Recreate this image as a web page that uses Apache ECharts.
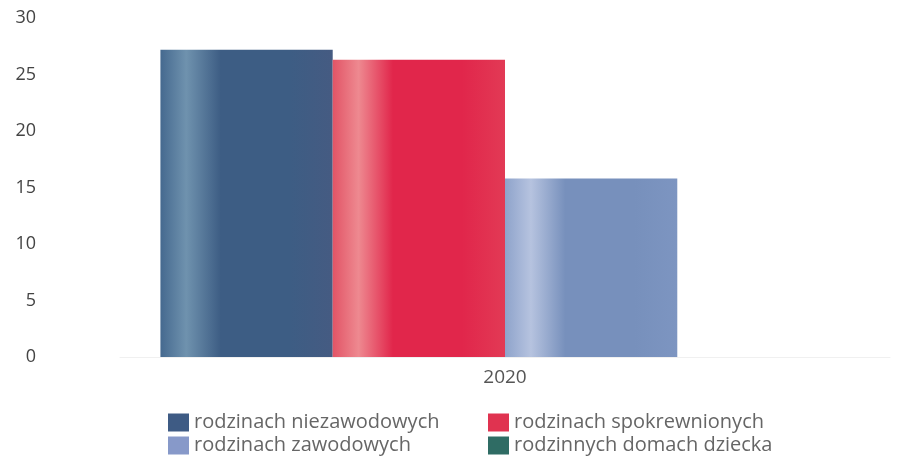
<!DOCTYPE html>
<html>
<head>
<meta charset="utf-8">
<script src="https://cdn.jsdelivr.net/npm/echarts@6/dist/echarts.min.js"></script>
<style>
  html, body { margin: 0; padding: 0; background: #fff; }
  #chart { width: 919px; height: 456px; }
</style>
</head>
<body>
<div id="chart"></div>
<script>
  var categories = ['2020'];
  var seriesNames = ['rodzinach niezawodowych', 'rodzinach spokrewnionych', 'rodzinach zawodowych', 'rodzinnych domach dziecka'];
  var niezawodowe = [27.2];
  var spokrewnione = [26.3];
  var zawodowe = [15.8];
  var domyDziecka = [0];
  var yTicks = [0, 5, 10, 15, 20, 25, 30];

  // stripe-like horizontal gradients, like the printed original
  function stripes(edge, light, mid, right) {
    return new echarts.graphic.LinearGradient(0, 0, 1, 0, [
      { offset: 0, color: edge },
      { offset: 0.15, color: light },
      { offset: 0.35, color: mid },
      { offset: 0.75, color: mid },
      { offset: 1, color: right }
    ]);
  }

  var colors = ['#3e5b84', '#e03350', '#8799c9', '#2f6c64'];
  var fills = [
    stripes('#45698f', '#6f92ae', '#3d5d84', '#455b82'),
    stripes('#e25466', '#ee8990', '#e1264b', '#e23a55'),
    stripes('#8ea3cb', '#b6c3df', '#7790bc', '#7d95c1'),
    colors[3]
  ];
  var values = [niezawodowe, spokrewnione, zawodowe, domyDziecka];

  var chart = echarts.init(document.getElementById('chart'));
  var option = {
    animation: false,
    color: colors,
    textStyle: { fontFamily: 'Open Sans' },
    grid: { left: 120, right: 29, top: 18, bottom: 99 },
    legend: {
      left: 163,
      top: 406,
      width: 660,
      itemWidth: 21,
      itemHeight: 18,
      itemGap: 0,
      icon: 'rect',
      textStyle: { color: '#666', fontSize: 20, width: 294, lineHeight: 23 },
      data: seriesNames.map(function (name, i) {
        return { name: name, itemStyle: { color: colors[i] } };
      })
    },
    xAxis: {
      type: 'category',
      data: categories,
      axisLine: { lineStyle: { color: '#f0f0f0' } },
      axisTick: { show: false },
      axisLabel: { color: '#555', fontSize: 19, margin: 11 }
    },
    yAxis: {
      type: 'value',
      min: yTicks[0],
      max: yTicks[yTicks.length - 1],
      interval: 5,
      splitLine: { show: false },
      axisLine: { show: false },
      axisTick: { show: false },
      axisLabel: { color: '#444', fontSize: 18, margin: 84 }
    },
    series: seriesNames.map(function (name, i) {
      return {
        name: name,
        type: 'bar',
        data: values[i],
        barGap: '0%',
        barCategoryGap: '10.5%',
        itemStyle: { color: fills[i] }
      };
    })
  };
  chart.setOption(option);
</script>
</body>
</html>
